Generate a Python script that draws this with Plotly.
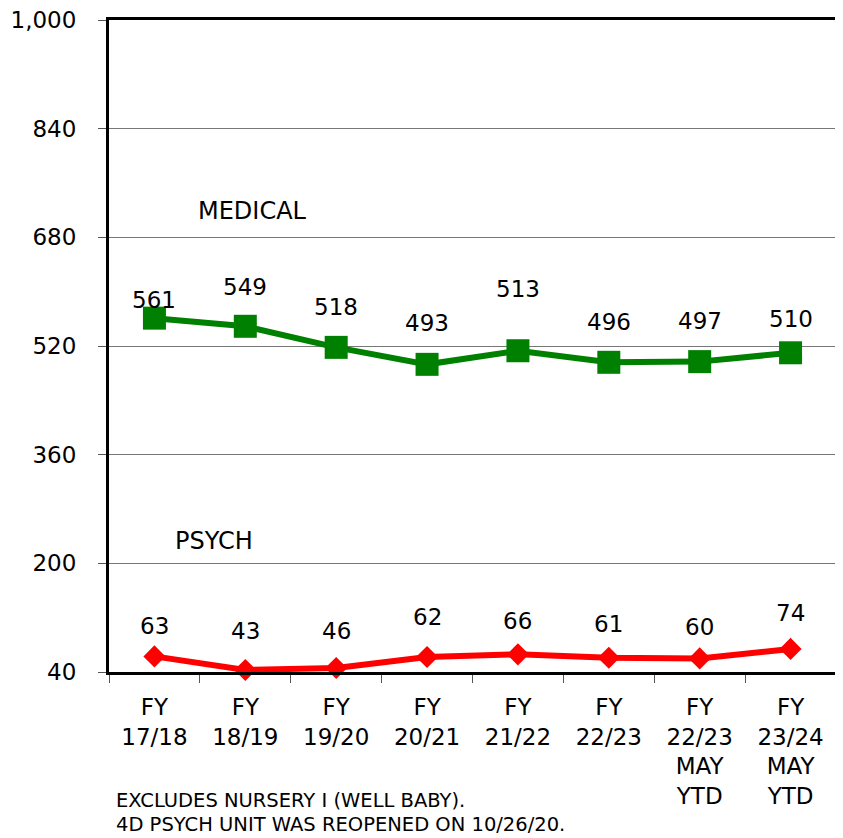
import plotly.graph_objects as go

categories = ["FY<br>17/18", "FY<br>18/19", "FY<br>19/20", "FY<br>20/21", "FY<br>21/22",
              "FY<br>22/23", "FY<br>22/23<br>MAY<br>YTD", "FY<br>23/24<br>MAY<br>YTD"]
medical = [561, 549, 518, 493, 513, 496, 497, 510]
psych = [63, 43, 46, 62, 66, 61, 60, 74]
y_ticks = [40, 200, 360, 520, 680, 840, 1000]
y_tick_labels = ["40", "200", "360", "520", "680", "840", "1,000"]

# label pixel offsets above markers
medical_label_shift = [18, 39, 40, 41, 62, 40, 41, 34]
psych_label_shift = [30, 39, 37, 40, 33, 34, 31, 36]

FONT = "DejaVu Sans, Verdana, sans-serif"
PAGE_OFF = 8  # default body margin of the html page
W, H = 843, 838
PLOT_L, PLOT_R, PLOT_T, PLOT_B = 109, 836, 20, 672
PW, PH = PLOT_R - PLOT_L, PLOT_B - PLOT_T

fig = go.Figure()
fig.add_trace(go.Scatter(
    x=categories, y=medical, mode="lines+markers",
    line=dict(color="#008000", width=6),
    marker=dict(symbol="square", size=23, color="#008000"),
    showlegend=False, cliponaxis=False))
fig.add_trace(go.Scatter(
    x=categories, y=psych, mode="lines+markers",
    line=dict(color="#FF0000", width=6),
    marker=dict(symbol="diamond", size=17, color="#FF0000"),
    showlegend=False, cliponaxis=False))

annotations = []
for c, v, s in zip(categories, medical, medical_label_shift):
    annotations.append(dict(x=c, y=v, text=str(v), showarrow=False, yshift=s,
                            font=dict(size=23, color="black", family=FONT)))
for c, v, s in zip(categories, psych, psych_label_shift):
    annotations.append(dict(x=c, y=v, text=str(v), showarrow=False, yshift=s,
                            font=dict(size=23, color="black", family=FONT)))

annotations.append(dict(x=1.08, y=719, xref="x", yref="y", text="MEDICAL", showarrow=False,
                        xanchor="center", font=dict(size=24, color="black", family=FONT)))
annotations.append(dict(x=0.66, y=233, xref="x", yref="y", text="PSYCH", showarrow=False,
                        xanchor="center", font=dict(size=24, color="black", family=FONT)))
annotations.append(dict(x=(114 - PLOT_L) / PW, y=(PLOT_B - 800) / PH, xref="paper", yref="paper",
                        text="EXCLUDES NURSERY I (WELL BABY).", showarrow=False,
                        xanchor="left", yanchor="middle",
                        font=dict(size=19.5, color="black", family=FONT)))
annotations.append(dict(x=(114 - PLOT_L) / PW, y=(PLOT_B - 824) / PH, xref="paper", yref="paper",
                        text="4D PSYCH UNIT WAS REOPENED ON 10/26/20.", showarrow=False,
                        xanchor="left", yanchor="middle",
                        font=dict(size=19.5, color="black", family=FONT)))

fig.update_layout(
    width=W, height=H,
    margin=dict(l=PLOT_L - PAGE_OFF, r=W - (PLOT_R - PAGE_OFF), t=PLOT_T - PAGE_OFF,
                b=H - (PLOT_B - PAGE_OFF), autoexpand=False),
    paper_bgcolor="white", plot_bgcolor="white",
    font=dict(family=FONT, size=23, color="black"),
    annotations=annotations,
)
fig.update_xaxes(
    type="category", tickson="boundaries", ticks="outside", ticklen=8, tickcolor="#555",
    showline=True, linecolor="black", linewidth=3, mirror=True, automargin=False,
    ticklabelstandoff=12,
    showgrid=False, tickfont=dict(size=23, family=FONT, color="black"),
    range=[-0.5, 7.5])
fig.update_yaxes(
    range=[40, 1000], tickvals=y_ticks, ticktext=y_tick_labels,
    ticks="outside", ticklen=8, tickcolor="#555", automargin=False,
    ticklabelstandoff=17, ticklabeloverflow="allow",
    showline=True, linecolor="black", linewidth=3, mirror=True,
    showgrid=True, gridcolor="#777", gridwidth=1, zeroline=False,
    tickfont=dict(size=23, family=FONT, color="black"))

fig.write_html("out.html")
